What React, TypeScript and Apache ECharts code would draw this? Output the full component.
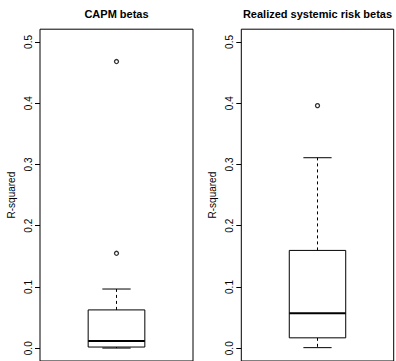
import React, { useEffect, useRef } from "react";
import * as echarts from "echarts";

// five-number summaries: [lower whisker, Q1, median, Q3, upper whisker]
const capmStats = [0.0003, 0.002, 0.0117, 0.0626, 0.0967];
const capmOutliers = [0.155, 0.468];
const realizedStats = [0.001, 0.017, 0.0572, 0.1597, 0.311];
const realizedOutliers = [0.396];
const titles = ["CAPM betas", "Realized systemic risk betas"];
const yTicks = [0, 0.1, 0.2, 0.3, 0.4, 0.5];
const yName = "R-squared";

const FONT = "Liberation Sans, Arial, Helvetica, sans-serif";

export default function App() {
  const ref = useRef<HTMLDivElement>(null);
  useEffect(() => {
    const chart = echarts.init(ref.current!, null, { renderer: "svg" });
    const grids = [
      { left: 40, top: 29.2, width: 153, height: 333 },
      { left: 241.3, top: 29.2, width: 152.4, height: 333 },
    ];
    const statsList = [capmStats, realizedStats];
    const outList = [capmOutliers, realizedOutliers];

    const renderItem = (params: any, api: any) => {
      const x = api.value(0);
      const lo = api.coord([x, api.value(1)]);
      const q1 = api.coord([x, api.value(2)]);
      const med = api.coord([x, api.value(3)]);
      const q3 = api.coord([x, api.value(4)]);
      const hi = api.coord([x, api.value(5)]);
      const cx = lo[0];
      const halfBox = api.coord([x + 0.2, 0])[0] - cx;
      const halfCap = api.coord([x + 0.1, 0])[0] - cx;
      const stroke = { stroke: "#000", lineWidth: 1, fill: null };
      return {
        type: "group",
        children: [
          {
            type: "line",
            shape: { x1: cx, y1: q3[1], x2: cx, y2: hi[1] },
            style: { ...stroke, lineDash: [3, 3] },
          },
          {
            type: "line",
            shape: { x1: cx, y1: q1[1], x2: cx, y2: lo[1] },
            style: { ...stroke, lineDash: [3, 3] },
          },
          {
            type: "line",
            shape: { x1: cx - halfCap, y1: hi[1], x2: cx + halfCap, y2: hi[1] },
            style: stroke,
          },
          {
            type: "line",
            shape: { x1: cx - halfCap, y1: lo[1], x2: cx + halfCap, y2: lo[1] },
            style: stroke,
          },
          {
            type: "rect",
            shape: { x: cx - halfBox, y: q3[1], width: 2 * halfBox, height: q1[1] - q3[1] },
            style: { stroke: "#000", lineWidth: 1, fill: "#fff" },
          },
          {
            type: "line",
            shape: { x1: cx - halfBox, y1: med[1], x2: cx + halfBox, y2: med[1] },
            style: { stroke: "#000", lineWidth: 2 },
          },
        ],
      };
    };

    const option: any = {
      animation: false,
      backgroundColor: "#fff",
      title: titles.map((t, i) => ({
        text: t,
        left: grids[i].left + grids[i].width / 2 - 5,
        textAlign: "center",
        top: 3,
        textStyle: { fontSize: 11, fontWeight: "bold", color: "#000", fontFamily: FONT },
      })),
      grid: grids.map((g) => ({
        ...g,
        show: true,
        borderColor: "#000",
        borderWidth: 1,
        backgroundColor: "transparent",
      })),
      xAxis: grids.map((_, i) => ({
        type: "value",
        gridIndex: i,
        min: 0.46,
        max: 1.54,
        show: false,
      })),
      yAxis: grids.map((_, i) => ({
        type: "value",
        gridIndex: i,
        min: -0.0208,
        max: 0.5208,
        name: yName,
        nameLocation: "middle",
        nameRotate: 90,
        nameGap: 24,
        nameTextStyle: { fontSize: 10, color: "#000", fontFamily: FONT },
        splitLine: { show: false },
        axisLine: { show: false },
        axisTick: {
          show: true,
          length: 5,
          customValues: yTicks,
          lineStyle: { color: "#000", width: 1 },
        },
        axisLabel: {
          customValues: yTicks,
          rotate: 90,
          margin: 7,
          fontSize: 10,
          color: "#000",
          fontFamily: FONT,
          formatter: (v: number) => v.toFixed(1),
        },
      })),
      series: [
        ...statsList.map((s, i) => ({
          type: "custom",
          xAxisIndex: i,
          yAxisIndex: i,
          renderItem,
          encode: { x: 0, y: [1, 2, 3, 4, 5] },
          data: [[1, ...s]],
          silent: true,
        })),
        ...outList.map((o, i) => ({
          type: "scatter",
          xAxisIndex: i,
          yAxisIndex: i,
          symbol: "circle",
          symbolSize: 4,
          itemStyle: { color: "#fff", borderColor: "#000", borderWidth: 1.3 },
          data: o.map((v) => [1, v]),
          silent: true,
        })),
      ],
    };
    chart.setOption(option);
    return () => chart.dispose();
  }, []);
  return (
    <div
      ref={ref}
      style={{ position: "absolute", left: 0, top: 0, width: 396, height: 361 }}
    />
  );
}
